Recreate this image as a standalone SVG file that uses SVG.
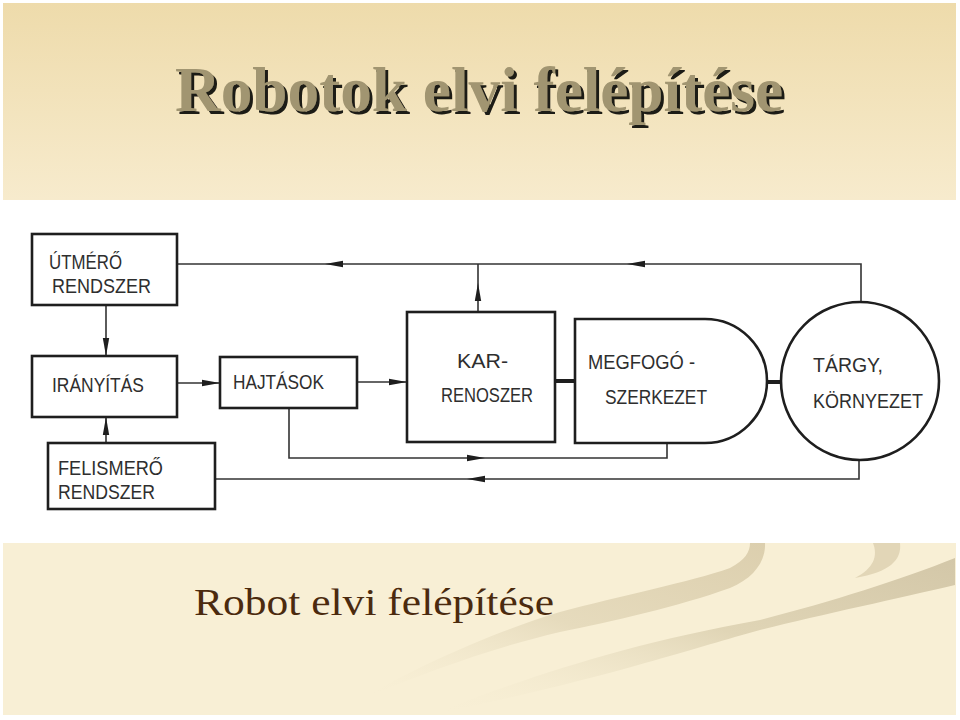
<svg xmlns="http://www.w3.org/2000/svg" width="960" height="720" viewBox="0 0 960 720">
<defs>
<linearGradient id="hdr" x1="0" y1="0" x2="0" y2="1">
<stop offset="0" stop-color="#eedbab"/>
<stop offset="1" stop-color="#f7ebcd"/>
</linearGradient>
<linearGradient id="sw1" x1="1" y1="0" x2="0" y2="1">
<stop offset="0" stop-color="#dccfae"/>
<stop offset="0.5" stop-color="#e6dbbd"/>
<stop offset="1" stop-color="#f8efd5" stop-opacity="0"/>
</linearGradient>
<linearGradient id="sw3" x1="1" y1="0" x2="0" y2="1">
<stop offset="0" stop-color="#d3c7a8"/>
<stop offset="0.45" stop-color="#e0d5b6"/>
<stop offset="1" stop-color="#f8efd5" stop-opacity="0"/>
</linearGradient>
<filter id="sh" x="-5%" y="-20%" width="110%" height="150%">
<feOffset in="SourceAlpha" dx="3" dy="3" result="o"/>
<feFlood flood-color="#1c1a14"/>
<feComposite in2="o" operator="in" result="s"/>
<feMerge><feMergeNode in="s"/><feMergeNode in="SourceGraphic"/></feMerge>
</filter>
<marker id="ah" markerUnits="userSpaceOnUse" markerWidth="18" markerHeight="8" refX="18" refY="4" orient="auto">
<path d="M0,0.8 L18,4 L0,7.2 z" fill="#1e1e1e"/>
</marker>
<style>
.box{fill:#ffffff;stroke:#1e1e1e;stroke-width:2.6}
.lbl{font-family:"Liberation Sans","DejaVu Sans",sans-serif;font-size:20px;fill:#2e2e2e}
.ln{fill:none;stroke:#333333;stroke-width:1.6}
.thick{fill:none;stroke:#1e1e1e;stroke-width:4}
.title{font-family:"Liberation Serif","Times New Roman",serif;font-weight:bold;font-size:63px}
.sub{font-family:"Liberation Serif","Times New Roman",serif;font-size:38px;fill:#4b2a0e}
</style>
</defs>
<rect x="0" y="0" width="960" height="720" fill="#ffffff"/>
<rect x="3" y="3" width="953" height="197" fill="url(#hdr)"/>
<rect x="3" y="543" width="953" height="172" fill="#f8efd5"/>
<g id="swooshes">
<path d="M750,543 L765,543 C766,560 755,578 730,588 C680,606 610,622 560,632 C500,646 430,670 360,700 C420,664 500,630 560,612 C620,596 690,582 730,568 C745,560 750,552 750,543 Z" fill="url(#sw1)"/>
<path d="M873,543 L900,543 C902,560 890,572 855,578 C874,568 878,556 873,543 Z" fill="#e2d6b7"/>
<path d="M955,558 L955,585 C900,598 820,615 760,630 C680,652 600,680 430,715 C520,680 620,645 760,620 C830,602 900,580 955,558 Z" fill="url(#sw3)"/>
</g>
<text id="title" class="title" x="175" y="111" fill="#a19571" filter="url(#sh)" textLength="608" lengthAdjust="spacingAndGlyphs">Robotok elvi felépítése</text>
<text id="subtitle" class="sub" x="194" y="615" textLength="360" lengthAdjust="spacingAndGlyphs">Robot elvi felépítése</text>
<g id="connectors">
<path class="ln" d="M861,303 V264 H627" marker-end="url(#ah)"/>
<path class="ln" d="M627,264 H325" marker-end="url(#ah)"/>
<path class="ln" d="M325,264 H177"/>
<path class="ln" d="M478,312 V283" marker-end="url(#ah)"/>
<path class="ln" d="M478,283 V264"/>
<path class="ln" d="M106,305 V356" marker-end="url(#ah)"/>
<path class="ln" d="M106,443 V417" marker-end="url(#ah)"/>
<path class="ln" d="M177,383 H220" marker-end="url(#ah)"/>
<path class="ln" d="M357,382 H407" marker-end="url(#ah)"/>
<path class="ln" d="M289,408 V458 H485" marker-end="url(#ah)"/>
<path class="ln" d="M485,458 H667 V443"/>
<path class="ln" d="M859,460 V479 H467" marker-end="url(#ah)"/>
<path class="ln" d="M467,479 H215"/>
<path class="thick" d="M555,381 H575"/>
<path class="thick" d="M767,382 H781"/>
</g>
<g id="utmero">
<rect class="box" x="32" y="234" width="145" height="71"/>
<text class="lbl" x="49" y="269" textLength="73" lengthAdjust="spacingAndGlyphs">ÚTMÉRŐ</text>
<text class="lbl" x="52" y="293" textLength="99" lengthAdjust="spacingAndGlyphs">RENDSZER</text>
</g>
<g id="iranyitas">
<rect class="box" x="32" y="356" width="145" height="61"/>
<text class="lbl" x="52" y="392" textLength="92" lengthAdjust="spacingAndGlyphs">IRÁNYÍTÁS</text>
</g>
<g id="hajtasok">
<rect class="box" x="220" y="357" width="137" height="51"/>
<text class="lbl" x="233" y="389" textLength="91" lengthAdjust="spacingAndGlyphs">HAJTÁSOK</text>
</g>
<g id="felismero">
<rect class="box" x="48" y="443" width="167" height="66"/>
<text class="lbl" x="58" y="475" textLength="105" lengthAdjust="spacingAndGlyphs">FELISMERŐ</text>
<text class="lbl" x="58" y="499" textLength="97" lengthAdjust="spacingAndGlyphs">RENDSZER</text>
</g>
<g id="kar">
<rect class="box" x="407" y="312" width="148" height="130"/>
<text class="lbl" x="457" y="368" textLength="51" lengthAdjust="spacingAndGlyphs">KAR-</text>
<text class="lbl" x="441" y="402" textLength="92" lengthAdjust="spacingAndGlyphs">RENOSZER</text>
</g>
<g id="megfogo">
<path class="box" d="M575,319 H705 A62,62 0 0 1 705,443 H575 Z"/>
<text class="lbl" x="588" y="369" textLength="107" lengthAdjust="spacingAndGlyphs">MEGFOGÓ -</text>
<text class="lbl" x="605" y="404" textLength="102" lengthAdjust="spacingAndGlyphs">SZERKEZET</text>
</g>
<g id="targy">
<circle class="box" cx="860" cy="381" r="79"/>
<text class="lbl" x="813" y="372" textLength="70" lengthAdjust="spacingAndGlyphs">TÁRGY,</text>
<text class="lbl" x="813" y="408" textLength="110" lengthAdjust="spacingAndGlyphs">KÖRNYEZET</text>
</g>
</svg>
